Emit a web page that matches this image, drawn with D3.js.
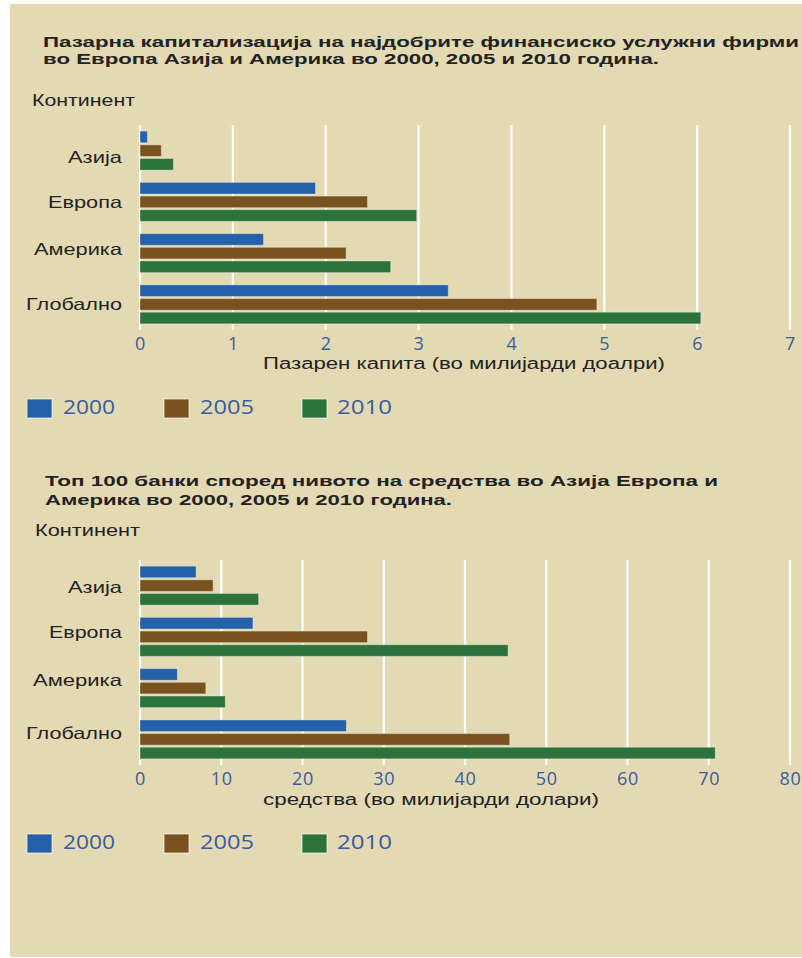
<!DOCTYPE html>
<html>
<head>
<meta charset="utf-8">
<script src="https://cdn.jsdelivr.net/npm/d3@7/dist/d3.min.js"></script>
<style>
  html, body { margin: 0; padding: 0; background: #ffffff; }
  svg { display: block; }
</style>
</head>
<body>
<svg id="chart" width="802" height="958"></svg>
<script>
// ---- data ----
const continents = ["Азија", "Европа", "Америка", "Глобално"];
const years = ["2000", "2005", "2010"];

// Market capitalisation (billions of dollars)
const capital2000 = [0.08, 1.89, 1.33, 3.32];
const capital2005 = [0.23, 2.45, 2.22, 4.92];
const capital2010 = [0.36, 2.98, 2.70, 6.04];
const capitalTicks = [0, 1, 2, 3, 4, 5, 6, 7];

// Assets of the top 100 banks (billions of dollars)
const assets2000 = [6.9, 13.9, 4.6, 25.4];
const assets2005 = [9.0, 28.0, 8.1, 45.5];
const assets2010 = [14.6, 45.3, 10.5, 70.8];
const assetsTicks = [0, 10, 20, 30, 40, 50, 60, 70, 80];

const title1 = ["Пазарна капитализација на најдобрите финансиско услужни фирми",
                "во Европа Азија и Америка во 2000, 2005 и 2010 година."];
const title2 = ["Топ 100 банки според нивото на средства во Азија Европа и",
                "Америка во 2000, 2005 и 2010 година."];
const axisTitle1 = "Пазарен капита (во милијарди доалри)";
const axisTitle2 = "средства (во милијарди долари)";
const groupTitle = "Континент";

// ---- style ----
const colors = ["#2461a8", "#7a5220", "#2c723b"];
const bg = "#e3dab4";
const textDark = "#222222";
const textBlue = "#3a5b9e";

const svg = d3.select("#chart");

svg.append("rect")
  .attr("x", 10).attr("y", 4)
  .attr("width", 792).attr("height", 953)
  .attr("fill", bg);

function fit(sel, width) {
  return sel.attr("textLength", width).attr("lengthAdjust", "spacingAndGlyphs");
}

function drawChart(cfg) {
  const g = svg.append("g");

  // title
  cfg.title.forEach((line, i) => {
    fit(g.append("text")
      .attr("x", cfg.titleX).attr("y", cfg.titleY[i])
      .attr("font-family", "Liberation Sans, Arial, sans-serif")
      .attr("font-weight", "bold")
      .attr("font-size", 15.5)
      .attr("fill", textDark)
      .text(line), cfg.titleW[i]);
  });

  fit(g.append("text")
    .attr("x", cfg.groupX).attr("y", cfg.groupY)
    .attr("font-family", "Liberation Sans, Arial, sans-serif")
    .attr("font-size", 16.5)
    .attr("fill", textDark)
    .text(groupTitle), cfg.groupW);

  const x = d3.scaleLinear().domain(cfg.domain).range([140, 790]);
  const y = d3.scaleBand().domain(continents)
    .range([cfg.top, cfg.bottom]).paddingInner(0.24).paddingOuter(0.12);
  const ySub = d3.scaleBand().domain(years)
    .range([0, y.bandwidth()]).paddingInner(0.15);

  // vertical grid lines
  g.append("g").selectAll("line").data(cfg.ticks).join("line")
    .attr("x1", d => x(d)).attr("x2", d => x(d))
    .attr("y1", cfg.top).attr("y2", cfg.bottom)
    .attr("stroke", "#ffffff").attr("stroke-width", 2.2);

  // bars
  const rows = continents.map((c, i) => ({
    continent: c,
    values: years.map((yr, j) => ({ year: yr, value: cfg.series[j][i], k: j }))
  }));
  const groups = g.append("g").selectAll("g").data(rows).join("g")
    .attr("transform", d => `translate(0,${y(d.continent)})`);
  groups.selectAll("rect").data(d => d.values).join("rect")
    .attr("x", x(0))
    .attr("y", d => ySub(d.year))
    .attr("width", d => x(d.value) - x(0))
    .attr("height", ySub.bandwidth())
    .attr("fill", d => colors[d.k])
    .attr("stroke", "rgba(255,255,255,0.35)")
    .attr("stroke-width", 1);

  // category labels
  g.append("g").selectAll("text").data(continents).join("text")
    .attr("x", 122)
    .attr("y", (d, i) => y(d) + y.bandwidth() / 2 + cfg.labelNudge[i])
    .attr("dy", "0.35em")
    .attr("text-anchor", "end")
    .attr("font-family", "Liberation Sans, Arial, sans-serif")
    .attr("font-size", 16.5)
    .attr("fill", textDark)
    .attr("textLength", (d, i) => cfg.labelW[i])
    .attr("lengthAdjust", "spacingAndGlyphs")
    .text(d => d);

  // x axis labels
  const axis = g.append("g")
    .attr("transform", `translate(0,${cfg.bottom})`)
    .call(d3.axisBottom(x).tickValues(cfg.ticks).tickSize(0).tickPadding(7)
      .tickFormat(d3.format("d")));
  axis.select(".domain").remove();
  axis.selectAll("text")
    .attr("font-family", "Open Sans, sans-serif")
    .attr("font-size", 18)
    .attr("fill", textBlue)
    .attr("letter-spacing", 0.6);

  fit(g.append("text")
    .attr("x", 263).attr("y", cfg.axisTitleY)
    .attr("font-family", "Liberation Sans, Arial, sans-serif")
    .attr("font-size", 16)
    .attr("fill", textDark)
    .text(cfg.axisTitle), cfg.axisTitleW);

  // legend
  const legX = [27, 164, 302];
  const legTextX = [63, 200, 337];
  const legTextW = [52, 54, 55];
  const leg = g.append("g").selectAll("g").data(years).join("g");
  leg.append("rect")
    .attr("x", (d, i) => legX[i]).attr("y", cfg.legendY)
    .attr("width", 25).attr("height", 19)
    .attr("fill", (d, i) => colors[i])
    .attr("stroke", "rgba(255,255,255,0.55)").attr("stroke-width", 1.2);
  leg.append("text")
    .attr("x", (d, i) => legTextX[i]).attr("y", cfg.legendY + 15)
    .attr("font-family", "Open Sans, sans-serif")
    .attr("font-size", 19.5)
    .attr("fill", textBlue)
    .attr("textLength", (d, i) => legTextW[i])
    .attr("lengthAdjust", "spacingAndGlyphs")
    .text(d => d);
}

drawChart({
  title: title1, titleX: 43, titleY: [47, 64], titleW: [756, 616],
  groupX: 32, groupY: 106, groupW: 103,
  domain: [0, 7], ticks: capitalTicks,
  series: [capital2000, capital2005, capital2010],
  top: 125, bottom: 330,
  labelNudge: [6.5, 0.5, -3.5, -0.5],
  labelW: [54, 74, 88, 96],
  axisTitle: axisTitle1, axisTitleY: 369, axisTitleW: 402,
  legendY: 399
});

drawChart({
  title: title2, titleX: 45, titleY: [486, 505], titleW: [673, 407],
  groupX: 35, groupY: 536, groupW: 105,
  domain: [0, 80], ticks: assetsTicks,
  series: [assets2000, assets2005, assets2010],
  top: 560, bottom: 765,
  labelNudge: [1.4, -4.7, -8, -6],
  labelW: [54, 73, 89, 96],
  axisTitle: axisTitle2, axisTitleY: 805, axisTitleW: 336,
  legendY: 834
});
</script>
</body>
</html>
